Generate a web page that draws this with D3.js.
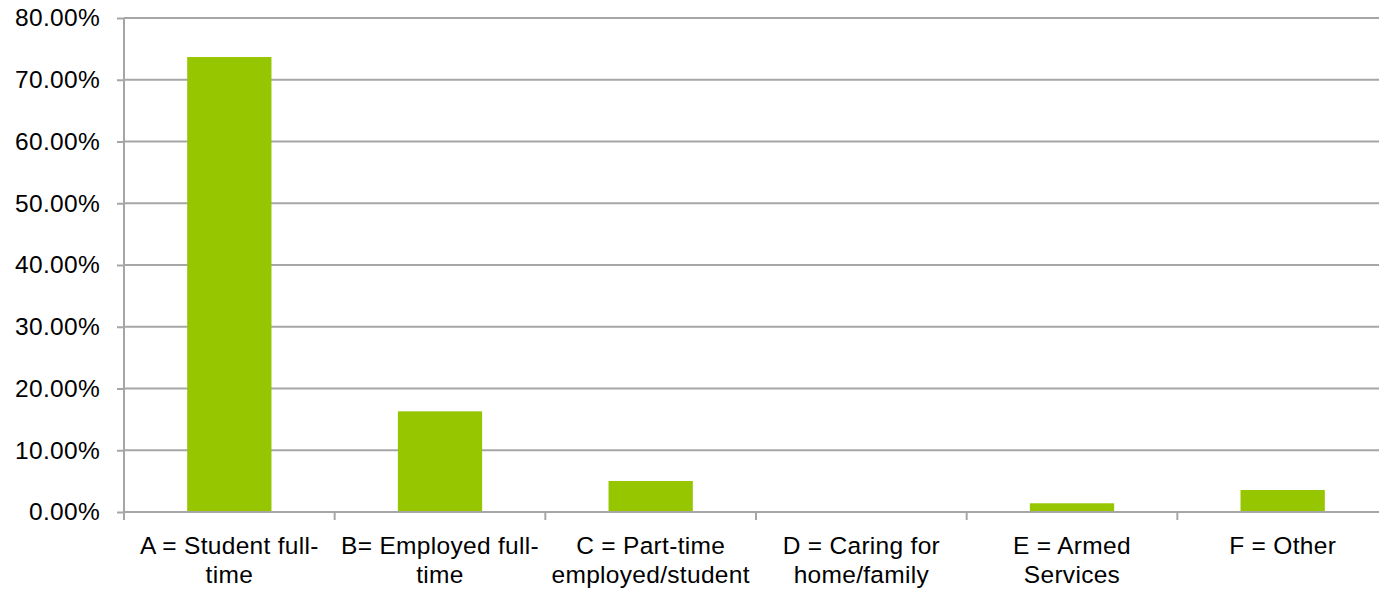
<!DOCTYPE html>
<html><head><meta charset="utf-8">
<script src="https://cdn.jsdelivr.net/npm/d3@7"></script>
<style>
html,body{margin:0;padding:0;background:#fff;}
svg{display:block;}
text{font-family:"Liberation Sans",Arial,sans-serif;fill:#000;}
</style></head>
<body>
<svg id="chart" width="1379" height="590"></svg>
<script>
const categories = ["A","B","C","D","E","F"];
const labelLines = [
  ["A = Student full-","time"],
  ["B= Employed full-","time"],
  ["C = Part-time","employed/student"],
  ["D = Caring for","home/family"],
  ["E = Armed","Services"],
  ["F = Other"]
];
const values = [0.7368, 0.1630, 0.0502, 0.0, 0.0141, 0.0356];
const yTicks = [0,0.1,0.2,0.3,0.4,0.5,0.6,0.7,0.8];

(function(){
const svg = d3.select("#chart");
const mLeft = 124, mRight = 1388, mTop = 18, mBottom = 512;
const FS = 24.5;

const x = d3.scaleBand().domain(categories).range([mLeft,mRight]).paddingInner(0.6).paddingOuter(0.3);
const xb = d3.scaleBand().domain(categories).range([mLeft,mRight]);
const y = d3.scaleLinear().domain([0,0.8]).range([mBottom,mTop]);

// gridlines
svg.append("g").selectAll("line").data(yTicks.filter(d=>d>0)).join("line")
  .attr("x1",mLeft).attr("x2",mRight).attr("y1",d=>y(d)).attr("y2",d=>y(d))
  .attr("stroke","#a6a6a6").attr("stroke-width",2);

// bars
svg.append("g").selectAll("rect").data(values).join("rect")
  .attr("x",(d,i)=>x(categories[i])).attr("width",x.bandwidth())
  .attr("y",d=>y(d)).attr("height",d=>y(0)-y(d))
  .attr("fill","#95c600");

// y axis
const yAxis = d3.axisLeft(y).tickValues(yTicks).tickFormat(d3.format(".2%")).tickSize(7).tickPadding(17);
const gy = svg.append("g").attr("transform",`translate(${mLeft},0)`).call(yAxis);
gy.select(".domain").attr("stroke","#a6a6a6").attr("stroke-width",2).attr("d",`M0,${mTop}V${mBottom}`);
gy.selectAll(".tick line").attr("stroke","#a6a6a6").attr("stroke-width",2);
gy.selectAll(".tick text").attr("font-size",FS).attr("fill","#000").attr("font-family","Liberation Sans, Arial, sans-serif").attr("letter-spacing","0.3px");

// x axis
const gx = svg.append("g").attr("transform",`translate(0,${mBottom})`);
gx.append("line").attr("x1",mLeft).attr("x2",mRight).attr("y1",0).attr("y2",0).attr("stroke","#a6a6a6").attr("stroke-width",2);
const boundaries = categories.map(c=>xb(c)).concat([mRight]);
gx.selectAll("line.tk").data(boundaries).join("line").attr("class","tk")
  .attr("x1",d=>d).attr("x2",d=>d).attr("y1",0).attr("y2",8).attr("stroke","#a6a6a6").attr("stroke-width",2);
const lab = gx.selectAll("text.lbl").data(categories).join("text").attr("class","lbl")
  .attr("text-anchor","middle").attr("font-size",FS).attr("letter-spacing","0.3px")
  .attr("transform",c=>`translate(${xb(c)+xb.bandwidth()/2},0)`);
lab.each(function(c,i){
  d3.select(this).selectAll("tspan").data(labelLines[i]).join("tspan")
    .attr("x",0).attr("y",(d,j)=>42+j*29).text(d=>d);
});
})();
</script>
</body></html>
